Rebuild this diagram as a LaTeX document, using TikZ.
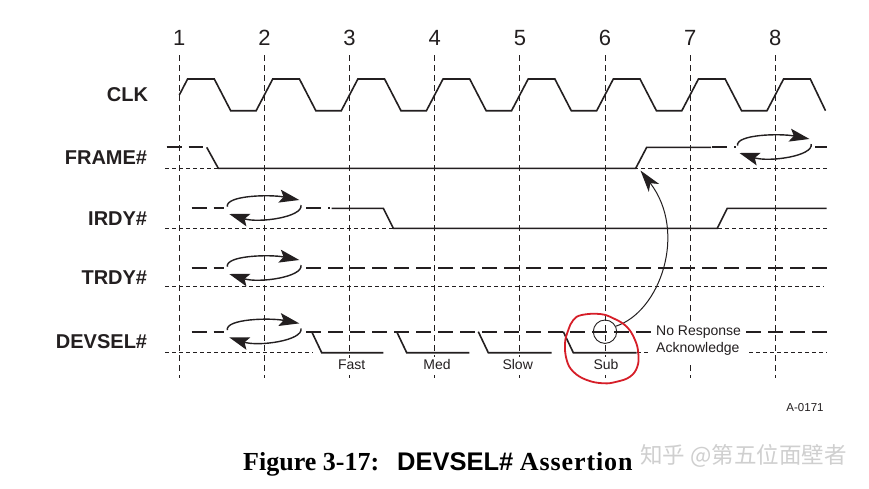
\documentclass[tikz,border=0pt]{standalone}
\usepackage{fontspec}
\setmainfont{Liberation Serif}
\newfontfamily\arialf{Liberation Sans}
\newfontfamily\capserif[LetterSpace=3.5]{Liberation Serif}
\newfontfamily\cjkf{Noto Sans CJK SC}
\usetikzlibrary{arrows.meta}
\definecolor{ink}{RGB}{35,31,32}
\definecolor{redpen}{RGB}{214,30,40}
\begin{document}
\begin{tikzpicture}[x=1pt,y=-1pt,
  vline/.style={ink, line width=0.8pt, dash pattern=on 6pt off 4pt},
  lowline/.style={ink, line width=0.8pt, dash pattern=on 4pt off 3pt},
  tristate/.style={ink, line width=2pt, dash pattern=on 15pt off 7pt},
  sigline/.style={ink, line width=1.6pt, line join=miter},
  num/.style={font=\arialf\fontsize{22}{24}\selectfont, text=ink, inner sep=0pt},
  siglabel/.style={font=\arialf\bfseries\fontsize{20}{22}\selectfont, text=ink, anchor=east, inner sep=0pt},
  small/.style={font=\arialf\fontsize{14}{17}\selectfont, text=ink, inner sep=0pt},
  edgelabel/.style={small, fill=white, inner xsep=1pt, inner ysep=2pt},
  turnaround/.pic={
    \draw[ink, line width=1.4pt, -{Stealth[length=20pt,width=13pt,inset=4pt]}]
      (-37,-1.6) .. controls (-39,-13) and (6,-14) .. (35,-8.3);
    \draw[ink, line width=1.4pt, -{Stealth[length=20pt,width=13pt,inset=4pt]}]
      (36.7,-3.3) .. controls (39,9) and (-6,15) .. (-35,5.7);
  }]
\useasboundingbox[fill=white] (0,0) rectangle (869,488);

% clock edges
\foreach \k in {1,...,8} {
  \pgfmathsetmacro\xx{179.3+(\k-1)*85.14}
  \draw[vline] (\xx,55) -- (\xx,378);
  \node[num] (n\k) at (\xx,38) {\k};
}

% labels
\node[siglabel] (lclk) at (148.3,95) {CLK};
\node[siglabel] (lframe) at (147.3,157.8) {FRAME\#};
\node[siglabel] (lirdy) at (147.3,218.3) {IRDY\#};
\node[siglabel] (ltrdy) at (147.3,277.2) {TRDY\#};
\node[siglabel] (ldevsel) at (147.3,342) {DEVSEL\#};

% CLK
\draw[sigline] (179.3,95) -- (187.6,79)
  foreach \k in {0,...,6} {
    -- ({179.3+\k*85.14+35},79) -- ({179.3+\k*85.14+51.4},110.7)
    -- ({179.3+(\k+1)*85.14-8.3},110.7) -- ({179.3+(\k+1)*85.14+8.3},79)
  } -- (810.3,79) -- (825.5,110.7);

% FRAME#
\draw[lowline] (165,168.3) -- (826.7,168.3);
\draw[tristate] (166.7,147.3) -- (203,147.3);
\draw[sigline] (206.7,147.3) -- (218.3,168.3) -- (635.7,168.3) -- (646.7,147.3) -- (711,147.3);
\draw[tristate] (712,147.3) -- (736,147.3);
\pic (tfr) at (774.5,147.3) {turnaround};
\draw[tristate] (815,147.3) -- (827,147.3);

% IRDY#
\draw[lowline] (165,228.3) -- (826.7,228.3);
\draw[tristate] (191.7,208.3) -- (224,208.3);
\pic (tir) at (264.3,208.3) {turnaround};
\draw[tristate] (306,208.3) -- (330,208.3);
\draw[sigline] (331.7,208.3) -- (383.3,208.3) -- (393.3,228.3) -- (717.3,228.3) -- (727.3,208.3) -- (826.7,208.3);

% TRDY#
\draw[lowline] (165,286) -- (824,286);
\draw[tristate] (191.7,268.3) -- (224,268.3);
\pic (ttr) at (264.3,268.3) {turnaround};
\draw[tristate] (306,268.3) -- (826.7,268.3);

% DEVSEL#
\draw[lowline] (165,352.7) -- (313,352.7);
\draw[lowline] (637,352.7) -- (826.7,352.7);
\draw[tristate] (191.7,331.7) -- (224,331.7);
\pic (tdv) at (264.3,331.7) {turnaround};
\draw[tristate] (306,331.7) -- (826.7,331.7);
\draw[sigline] (311.7,331.7) -- (321.7,352.7) -- (383.3,352.7);
\draw[sigline] (396.7,331.7) -- (406.7,352.7) -- (469.3,352.7);
\draw[sigline] (478.3,331.7) -- (488.3,352.7) -- (551.7,352.7);
\draw[sigline] (563.3,331.7) -- (573.3,352.7) -- (636.7,352.7);

\node[edgelabel] (fast) at (351.7,364.5) {Fast};
\node[edgelabel] (med) at (437,364.5) {Med};
\node[edgelabel] (slow) at (517.7,364.5) {Slow};
\node[edgelabel] (sub) at (606,364.5) {Sub};

\node[small, fill=white, align=left, anchor=west, inner xsep=5pt, inner ysep=5pt] (noresp) at (651,341)
  {No Response\\Acknowledge};

% probe circle and arrow
\node[circle, draw=ink, line width=0.9pt, minimum size=23.4pt, inner sep=0pt] (probe) at (605,331.7) {};
\coordinate (frise) at (640.5,170.5);
\draw[ink, line width=1pt, -{Stealth[length=22pt,width=13pt,inset=6pt]}]
  (probe.27) .. controls (660,312) and (688,232) .. (frise);

% id
\node[font=\arialf\fontsize{11.5}{13}\selectfont, text=ink, inner sep=0pt] (aid) at (805,408) {A-0171};

% caption
\node[anchor=base west, inner sep=0pt, text=black] (cap) at (243,470)
  {\fontsize{26}{30}\selectfont\bfseries Figure 3-17:\hspace{18pt}{\arialf\fontsize{25.5}{28}\selectfont DEVSEL\#} {\capserif\bfseries Assertion}};

% watermark
\node[anchor=west, inner sep=0pt, text=gray!38, font=\cjkf\fontsize{22.5}{26}\selectfont] (wm) at (640,456) {知乎 @第五位面壁者};

% red pen circle
\draw[redpen, line width=1.8pt] plot[smooth cycle, tension=0.7] coordinates {
  (581.7,315) (600,314) (613.3,318.3) (626.7,326.7) (635,340) (638.3,353.3)
  (637.3,366.7) (630,376.7) (616.7,381.7) (603.3,383.3) (586.7,380) (573.3,371.7)
  (566.7,360) (565,343.3) (568.3,330) (573.3,320)};
\end{tikzpicture}
\end{document}
